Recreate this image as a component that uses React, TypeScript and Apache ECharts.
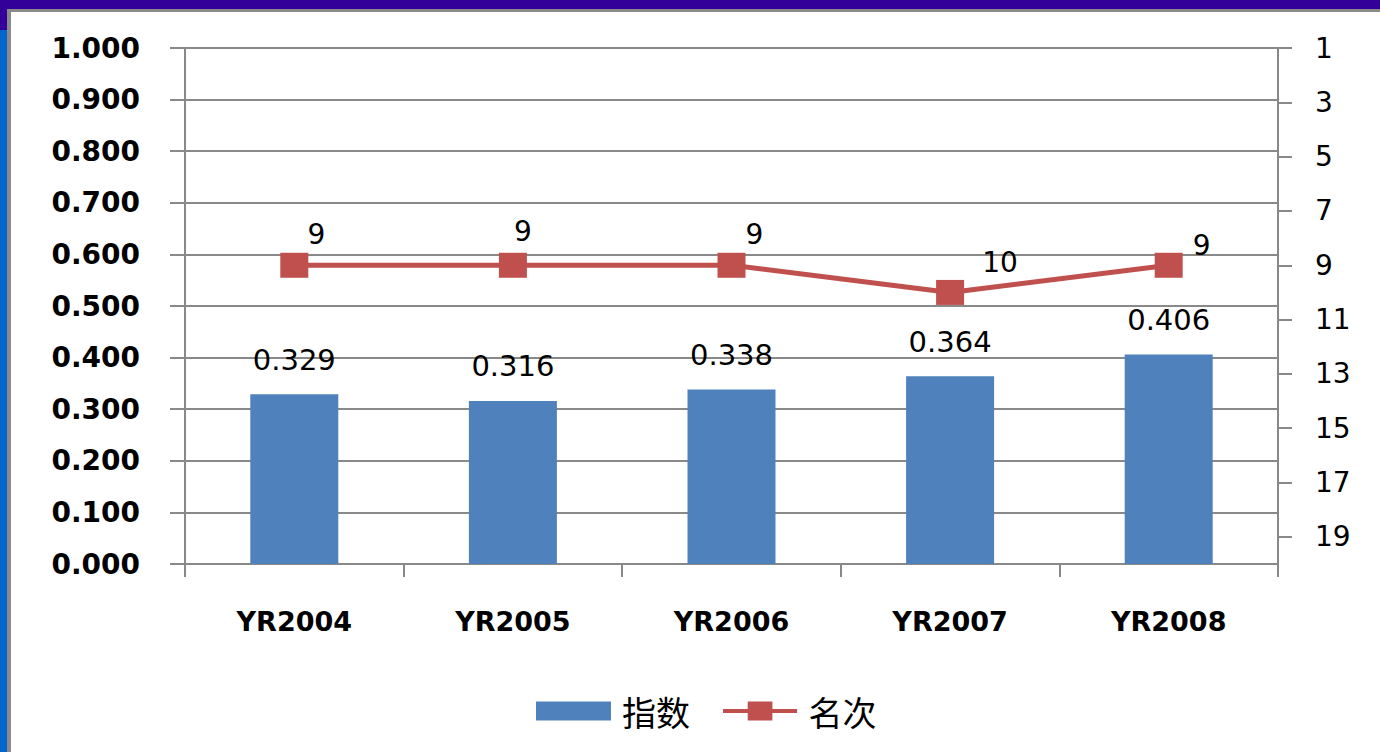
import React, { useEffect, useRef } from "react";
import * as echarts from "echarts";

const categories = ["YR2004", "YR2005", "YR2006", "YR2007", "YR2008"];
const indexValues = [0.329, 0.316, 0.338, 0.364, 0.406];
const rankValues = [9, 9, 9, 10, 9];
const rankTicks = [1, 3, 5, 7, 9, 11, 13, 15, 17, 19];
const rankLabelOffsets = [
  [22, -31],
  [10, -34],
  [23, -31],
  [50, -30],
  [33, -20],
];

const GRAY = "#898989";
const FONT = "'DejaVu Sans', Verdana, sans-serif";
const LINE_ICON = "path://M0,8 L78,8 L78,12 L0,12 Z M26,0 L52,0 L52,20 L26,20 Z";

export default function App() {
  const ref = useRef<HTMLDivElement>(null);
  useEffect(() => {
    document.body.style.margin = "0";
    const chart = echarts.init(ref.current!, null, { renderer: "svg" });
    chart.setOption({
      animation: false,
      backgroundColor: "#ffffff",
      graphic: [
        { type: "rect", shape: { x: 0, y: 0, width: 1380, height: 9 }, style: { fill: "#330099" }, silent: true },
        { type: "rect", shape: { x: 0, y: 0, width: 7, height: 30 }, style: { fill: "#330099" }, silent: true },
        { type: "rect", shape: { x: 0, y: 30, width: 7, height: 722 }, style: { fill: "#0066cc" }, silent: true },
        { type: "rect", shape: { x: 7, y: 9, width: 1373, height: 3 }, style: { fill: "#8a8a8a" }, silent: true },
        { type: "rect", shape: { x: 7, y: 9, width: 4, height: 743 }, style: { fill: "#8a8a8a" }, silent: true },
      ],
      grid: { left: 185, right: 102, top: 48, bottom: 188, containLabel: false },
      legend: {
        left: 531,
        top: 689,
        itemWidth: 75,
        itemHeight: 19,
        itemGap: 33,
        textStyle: {
          fontFamily: "'Noto Sans CJK SC', sans-serif",
          fontSize: 34,
          color: "#000",
          padding: [0, 0, 0, 6],
        },
        data: [
          { name: "指数", icon: "rect" },
          { name: "名次", icon: LINE_ICON, itemStyle: { color: "#C0504D" } },
        ],
      },
      xAxis: {
        type: "category",
        data: categories,
        axisLine: { lineStyle: { color: GRAY, width: 2 } },
        axisTick: { show: true, length: 13, lineStyle: { color: GRAY, width: 2 } },
        axisLabel: {
          margin: 44,
          fontFamily: FONT,
          fontWeight: "bold",
          fontSize: 27,
          color: "#000",
        },
      },
      yAxis: [
        {
          type: "value",
          min: 0,
          max: 1,
          interval: 0.1,
          axisLine: { show: true, lineStyle: { color: GRAY, width: 2 } },
          axisTick: { show: true, length: 15, lineStyle: { color: GRAY, width: 2 } },
          splitLine: { show: true, lineStyle: { color: GRAY, width: 2 } },
          axisLabel: {
            margin: 45,
            fontFamily: FONT,
            fontWeight: "bold",
            fontSize: 28,
            color: "#000",
            formatter: (v: number) => v.toFixed(3),
          },
        },
        {
          type: "value",
          inverse: true,
          min: 1,
          max: 20,
          interval: 2,
          position: "right",
          axisLine: { show: true, lineStyle: { color: GRAY, width: 2 } },
          axisTick: { show: true, length: 14, lineStyle: { color: GRAY, width: 2 }, customValues: rankTicks },
          splitLine: { show: false },
          axisLabel: {
            margin: 37,
            fontFamily: FONT,
            fontSize: 28,
            color: "#000",
            customValues: rankTicks,
          },
        },
      ],
      series: [
        {
          name: "指数",
          type: "bar",
          data: indexValues,
          barWidth: 88,
          itemStyle: { color: "#4F81BD" },
          label: {
            show: true,
            position: "top",
            distance: 20,
            fontFamily: FONT,
            fontSize: 29,
            color: "#000",
            formatter: (p: any) => Number(p.value).toFixed(3),
          },
        },
        {
          name: "名次",
          type: "line",
          yAxisIndex: 1,
          data: rankValues.map((v, i) => ({
            value: v,
            label: { offset: rankLabelOffsets[i] },
          })),
          symbol: "rect",
          symbolSize: [28, 25],
          lineStyle: { color: "#C0504D", width: 5 },
          itemStyle: { color: "#C0504D" },
          label: {
            show: true,
            position: "inside",
            fontFamily: FONT,
            fontSize: 28,
            color: "#000",
          },
        },
      ],
    });
    return () => chart.dispose();
  }, []);
  return <div ref={ref} style={{ position: "fixed", left: 0, top: 0, width: 1380, height: 752 }} />;
}
